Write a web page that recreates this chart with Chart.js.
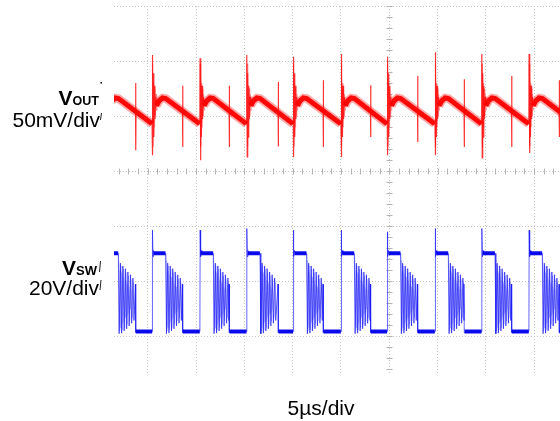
<!DOCTYPE html>
<html>
<head>
<meta charset="utf-8">
<script src="https://cdn.jsdelivr.net/npm/chart.js@4.4.1/dist/chart.umd.min.js"></script>
<style>
  html, body { margin: 0; padding: 0; background: #fff; }
  #wrap { position: relative; width: 560px; height: 421px; }
</style>
</head>
<body>
<div id="wrap"><canvas id="scopeChart"></canvas></div>
<script>
// ---- capture data: time in µs (5 µs/div), levels in screen divisions ----

// rising edge of V_SW for every switching cycle
const edgeTimes = [-4.42, 0.48, 5.41, 10.25, 15.07, 20.01, 24.80, 29.74, 34.58, 39.47];
const cyclePeriod = 4.87;
// moment the ringing collapses (small V_OUT spike)
const ringEndTimes = [-1.24, 3.62, 8.45, 13.52, 18.18, 23.08, 27.95, 32.77, 37.68, 42.61];

// V_OUT spikes per cycle
const outBigTop = [2.10, 2.11, 2.05, 2.11, 2.08, 2.13, 2.08, 2.16, 2.13, 2.13];
const outBigBottom = [0.28, 0.29, 0.20, 0.26, 0.26, 0.26, 0.29, 0.29, 0.24, 0.33];
const outSmallTop = [1.60, 1.55, 1.55, 1.62, 1.65, 1.56, 1.73, 1.67, 1.73, 1.65];
const outSmallBottom = [0.38, 0.44, 0.44, 0.45, 0.44, 0.62, 0.53, 0.44, 0.44, 0.62];

// V_OUT ripple: offset from edge (µs), level (div)
const outRamp = [[0.42, 1.19], [0.70, 1.28], [1.05, 1.33], [1.40, 1.32]];
const outRampEnd = 0.86;
const outSmallBase = 1.06;
const outRing = [[0.10, 1.78], [0.15, 0.62], [0.21, 1.55], [0.27, 0.95], [0.34, 1.35], [0.42, 1.19]];
const outRingFaint = [[0.00, 0.90], [0.03, 1.95], [0.08, 0.45], [0.13, 1.60], [0.19, 0.80],
                      [0.25, 1.50], [0.31, 1.00], [0.38, 1.40], [0.45, 1.10], [0.55, 1.28]];

// V_SW levels
const swTop = [-1.07, -1.07, -1.07, -1.04, -1.07, -1.07, -1.10, -1.04, -1.04, -1.07];
const swHigh = -1.49;
const swLow = -2.91;
const swHighEnd = 1.38;
const swEdge = [[0.07, -1.55], [0.13, -1.44], [0.20, -1.49]];
const swRing = [[1.46, -2.95], [1.59, -1.67], [1.72, -2.94], [1.85, -1.72], [1.98, -2.90],
                [2.11, -1.77], [2.24, -2.86], [2.37, -1.83], [2.50, -2.81], [2.63, -1.88],
                [2.76, -2.76], [2.89, -1.94], [3.00, -2.71]];
const swRingFaint = [[1.40, -1.50], [1.52, -2.90], [1.65, -1.72], [1.78, -2.88], [1.91, -1.78],
                     [2.04, -2.84], [2.17, -1.84], [2.30, -2.78], [2.43, -1.90], [2.56, -2.72],
                     [2.69, -1.96], [2.82, -2.66], [2.95, -2.02], [3.05, -2.60]];
const swRingHaze = [[1.43, -1.62], [1.49, -2.80], [1.56, -1.80], [1.62, -2.85], [1.69, -1.84],
                    [1.75, -2.78], [1.82, -1.88], [1.88, -2.74], [1.95, -1.92], [2.01, -2.70],
                    [2.08, -1.98], [2.14, -2.66], [2.21, -2.02], [2.27, -2.62], [2.34, -2.06],
                    [2.40, -2.58], [2.47, -2.10], [2.53, -2.55], [2.60, -2.14], [2.66, -2.50]];

const centerTime = 25;

function pt(x, y) { return { x: x, y: y }; }
function gap(x) { return { x: x, y: null }; }

function buildTraces() {
    const out = { band: [], trace: [], faint: [], sw: [], swLevels: [], swFaint: [], swHaze: [] };
    edgeTimes.forEach(function(t0, i) {
        const next = i + 1 < edgeTimes.length ? edgeTimes[i + 1] : t0 + cyclePeriod;
        const tEnd = ringEndTimes[i];

        // V_OUT ripple band
        outRamp.forEach(function(p) { out.band.push(pt(t0 + p[0], p[1])); });
        out.band.push(pt(next - 0.03, outRampEnd));
        out.band.push(gap(next - 0.02));

        // V_OUT thin trace with spikes
        out.trace.push(pt(t0, outRampEnd + 0.01));
        out.trace.push(pt(t0 + 0.01, outBigTop[i]));
        out.trace.push(pt(t0 + 0.05, outBigBottom[i]));
        outRing.forEach(function(p) { out.trace.push(pt(t0 + p[0], p[1])); });
        out.trace.push(pt(t0 + 1.25, 1.33));
        out.trace.push(pt(tEnd - 0.02, outSmallBase));
        out.trace.push(pt(tEnd - 0.01, outSmallTop[i]));
        out.trace.push(pt(tEnd + 0.01, outSmallBottom[i]));
        out.trace.push(pt(tEnd + 0.03, outSmallBase - 0.01));
        out.trace.push(pt(next - 0.03, outRampEnd));

        outRingFaint.forEach(function(p) { out.faint.push(pt(t0 + p[0], p[1])); });
        out.faint.push(gap(t0 + 0.6));

        // V_SW thin trace
        out.sw.push(pt(t0, swLow));
        out.sw.push(pt(t0 + 0.02, swTop[i]));
        swEdge.forEach(function(p) { out.sw.push(pt(t0 + p[0], p[1])); });
        out.sw.push(pt(t0 + swHighEnd, swHigh));
        swRing.forEach(function(p) { out.sw.push(pt(t0 + p[0], p[1])); });
        out.sw.push(pt(tEnd - 0.03, -2.05));
        out.sw.push(pt(tEnd, swLow - 0.02));
        out.sw.push(pt(next - 0.01, swLow));

        // V_SW flat levels drawn heavier
        out.swLevels.push(pt(t0 + 0.12, swHigh));
        out.swLevels.push(pt(t0 + swHighEnd - 0.02, swHigh));
        out.swLevels.push(gap(t0 + swHighEnd));
        out.swLevels.push(pt(tEnd + 0.03, swLow));
        out.swLevels.push(pt(next - 0.02, swLow));
        out.swLevels.push(gap(next - 0.01));

        swRingFaint.forEach(function(p) { out.swFaint.push(pt(t0 + p[0], p[1])); });
        out.swFaint.push(gap(t0 + 3.1));
        swRingHaze.forEach(function(p) { out.swHaze.push(pt(t0 + p[0], p[1])); });
        out.swHaze.push(gap(t0 + 2.7));
    });
    return out;
}

// center axis ticks and channel labels
const scopeDecor = {
    id: 'scopeDecor',
    beforeDatasetsDraw(chart) {
        const ctx = chart.ctx;
        const x = chart.scales.x;
        const y = chart.scales.y;
        const cx = Math.round(x.getPixelForValue(centerTime)) + 0.5;
        const cy = Math.round(y.getPixelForValue(0)) + 0.5;
        ctx.save();
        ctx.strokeStyle = '#b4b4b4';
        ctx.lineWidth = 1;
        ctx.beginPath();
        for (let t = Math.ceil(x.min); t <= x.max; t++) {
            const px = Math.round(x.getPixelForValue(t)) + 0.5;
            ctx.moveTo(px, cy - 3);
            ctx.lineTo(px, cy + 3);
        }
        for (let k = Math.ceil(y.min * 5); k <= y.max * 5; k++) {
            const py = Math.round(y.getPixelForValue(k / 5)) + 0.5;
            ctx.moveTo(cx - 3, py);
            ctx.lineTo(cx + 3, py);
        }
        ctx.stroke();
        ctx.restore();
    },
    afterDraw(chart) {
        const ctx = chart.ctx;
        ctx.save();
        ctx.fillStyle = '#000';
        ctx.textBaseline = 'alphabetic';
        ctx.textAlign = 'right';

        // V_OUT
        ctx.font = 'bold 12.5px "Liberation Sans", Arial, sans-serif';
        const wOut = ctx.measureText('OUT').width;
        ctx.fillText('OUT', 99, 105);
        ctx.font = 'bold 21px "Liberation Sans", Arial, sans-serif';
        ctx.fillText('V', 99 - wOut, 105);
        ctx.font = '21px "Liberation Sans", Arial, sans-serif';
        ctx.fillText('50mV/div', 100, 127);

        // V_SW
        ctx.font = 'bold 13px "Liberation Sans", Arial, sans-serif';
        const wSw = ctx.measureText('SW').width;
        ctx.fillText('SW', 97, 275);
        ctx.font = 'bold 21px "Liberation Sans", Arial, sans-serif';
        ctx.fillText('V', 97 - wSw, 275);
        ctx.font = '21px "Liberation Sans", Arial, sans-serif';
        ctx.fillText('20V/div', 99, 295);

        ctx.textAlign = 'center';
        ctx.fillText('5µs/div', 321, 415);

        // little marker strokes beside the labels
        ctx.strokeStyle = '#222';
        ctx.lineWidth = 1;
        ctx.beginPath();
        ctx.moveTo(101.5, 113); ctx.lineTo(100.5, 120);
        ctx.moveTo(100.5, 261); ctx.lineTo(99.5, 272);
        ctx.moveTo(101, 280); ctx.lineTo(100, 290);
        ctx.stroke();
        ctx.fillRect(100.5, 82, 1.5, 1.5);
        ctx.restore();
    }
};

const traces = buildTraces();

new Chart(document.getElementById('scopeChart'), {
    type: 'line',
    data: {
        datasets: [
            { label: 'VOUT', data: traces.trace, borderColor: 'rgba(255,0,0,0.8)', borderWidth: 1.2, order: 1 },
            { label: 'VOUT band', data: traces.band, borderColor: 'rgba(255,0,0,0.95)', borderWidth: 5, order: 2 },
            { label: 'VOUT band edge', data: traces.band, borderColor: 'rgba(255,40,40,0.4)', borderWidth: 8.5, order: 3 },
            { label: 'VOUT ring', data: traces.faint, borderColor: 'rgba(255,110,110,0.5)', borderWidth: 1, order: 4 },
            { label: 'VSW level', data: traces.swLevels, borderColor: 'rgba(0,0,235,0.95)', borderWidth: 4, order: 5 },
            { label: 'VSW', data: traces.sw, borderColor: 'rgba(20,20,245,0.65)', borderWidth: 1, order: 6 },
            { label: 'VSW ring', data: traces.swFaint, borderColor: 'rgba(100,100,255,0.35)', borderWidth: 1, order: 7 },
            { label: 'VSW haze', data: traces.swHaze, borderColor: 'rgba(140,140,255,0.25)', borderWidth: 1, order: 8 }
        ]
    },
    options: {
        responsive: true,
        maintainAspectRatio: false,
        animation: false,
        events: [],
        layout: { padding: { left: 114, right: 0, top: 6, bottom: 46 } },
        elements: {
            point: { radius: 0 },
            line: { tension: 0, borderCapStyle: 'butt', borderJoinStyle: 'miter' }
        },
        datasets: { line: { clip: 0, spanGaps: false, fill: false } },
        plugins: {
            legend: { display: false },
            tooltip: { enabled: false }
        },
        scales: {
            x: {
                type: 'linear',
                min: -3.49,
                max: 42.68,
                ticks: { display: false, stepSize: 5, includeBounds: false },
                grid: { color: '#c4c4c4', lineWidth: 1, drawTicks: false },
                border: { display: false, dash: [1, 2] }
            },
            y: {
                type: 'linear',
                min: -3.7,
                max: 3,
                ticks: { display: false, stepSize: 1, includeBounds: false },
                grid: { color: '#c4c4c4', lineWidth: 1, drawTicks: false },
                border: { display: false, dash: [1, 2] }
            }
        }
    },
    plugins: [scopeDecor]
});
</script>
</body>
</html>
